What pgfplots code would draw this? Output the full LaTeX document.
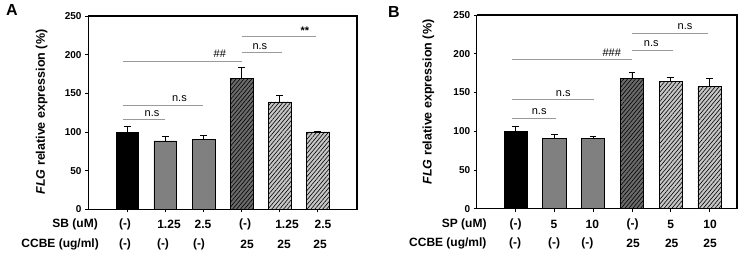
\documentclass[border=0pt]{standalone}
\usepackage{fontspec}
\setmainfont{Liberation Sans}
\usepackage{pgfplots}
\pgfplotsset{compat=1.18}
\usetikzlibrary{patterns.meta}

\definecolor{barmid}{HTML}{808080}
\definecolor{bardark}{HTML}{6A6A6A}
\definecolor{barlight}{HTML}{C6C6C6}
\definecolor{siggray}{HTML}{9A9A9A}

\tikzset{
  hatch/.style={postaction={pattern={Lines[angle=50,distance=3pt,line width=0.6pt]}}},
  sig/.style={siggray, line width=1pt},
  siglab/.style={font=\fontsize{11}{13}\selectfont, inner sep=0pt},
  cat/.style={font=\fontsize{12}{14}\selectfont\bfseries, inner sep=0pt},
}

\pgfplotsset{
  panel/.style={
    scale only axis, anchor=south west,
    ymin=0, ymax=250, ytick={0,50,...,250},
    xtick={0,...,5}, xticklabels={},
    xtick pos=bottom, ytick pos=left,
    axis line style={line width=0.8pt},
    tick style={black, line width=0.8pt},
    tick align=outside, major tick length=3pt,
    yticklabel style={font=\fontsize{10}{12}\selectfont\bfseries},
    /pgf/number format/assume math mode=true,
    clip=false,
    every axis plot/.append style={ybar, bar width=0.6, bar shift=0pt, draw=black, line width=0.6pt},
  },
  errs/.style={error bars/.cd, y dir=plus, y explicit,
    error bar style={black, line width=0.7pt, solid},
    error mark options={black, line width=0.7pt, mark size=3.3pt, rotate=90}},
}

\begin{document}
\begin{tikzpicture}
\path[use as bounding box] (0,0) rectangle (750pt,253pt);

% ---------------- Panel A ----------------
\begin{axis}[panel, at={(88pt,43.7pt)}, width=269pt, height=193.3pt,
  xmin=-1.03, xmax=6.03]
  \addplot[fill=black, errs] coordinates {(0,100) +- (0,7.5)};
  \addplot[fill=barmid, errs] coordinates {(1,88.5) +- (0,5.5) (2,90) +- (0,5.3)};
  \addplot[fill=bardark, hatch, errs] coordinates {(3,169) +- (0,15)};
  \addplot[fill=barlight, hatch, errs] coordinates {(4,139) +- (0,9) (5,100) +- (0,0.8)};

  \draw[sig] (axis cs:-0.1,116.5) -- (axis cs:1.0,116.5);
  \node[siglab] at (axis cs:0.65,123.5) {n.s};
  \draw[sig] (axis cs:-0.1,134.7) -- (axis cs:2.0,134.7);
  \node[siglab] at (axis cs:1.37,143.8) {n.s};
  \draw[sig] (axis cs:-0.1,191.7) -- (axis cs:3.0,191.7);
  \node[siglab] at (axis cs:2.43,201) {\#\#};
  \draw[sig] (axis cs:3.0,203) -- (axis cs:4.05,203);
  \node[siglab] at (axis cs:3.48,211) {n.s};
  \draw[sig] (axis cs:3.0,223.6) -- (axis cs:4.95,223.6);
  \node[siglab, font=\fontsize{11}{13}\selectfont\bfseries] at (axis cs:4.66,231.5) {**};

  \draw[line width=1.8pt] (rel axis cs:0,1) -- (rel axis cs:1,1) -- (rel axis cs:1,0);
\end{axis}

\foreach \x/\t in {125/(-), 169/1.25, 203/2.5, 245/(-), 287/1.25, 323/2.5}
  \node[cat] at (\x pt,29pt) {\t};
\foreach \x/\t in {125/(-), 163/(-), 199/(-), 247/25, 284/25, 320/25}
  \node[cat] at (\x pt,8.7pt) {\t};
\node[cat, anchor=east] at (98pt,29pt) {SB (uM)};
\node[cat, anchor=east] at (99pt,8.7pt) {CCBE (ug/ml)};
\node[rotate=90, font=\fontsize{12.5}{14}\selectfont\bfseries] at (41.7pt,141pt)
  {\itshape FLG\upshape\ relative expression (\%)};
\node[font=\fontsize{16}{18}\selectfont\bfseries] at (12pt,243pt) {A};

% ---------------- Panel B ----------------
\begin{axis}[panel, at={(476.7pt,44.3pt)}, width=260pt, height=193.7pt,
  xmin=-1.0, xmax=5.7]
  \addplot[fill=black, errs] coordinates {(0,100.3) +- (0,5.5)};
  \addplot[fill=barmid, errs] coordinates {(1,90.3) +- (0,6.1) (2,91.2) +- (0,2.6)};
  \addplot[fill=bardark, hatch, errs] coordinates {(3,167.7) +- (0,8.3)};
  \addplot[fill=barlight, hatch, errs] coordinates {(4,164.8) +- (0,4.2) (5,158.3) +- (0,9.4)};

  \draw[sig] (axis cs:-0.1,116.6) -- (axis cs:1.04,116.6);
  \node[siglab] at (axis cs:0.61,125) {n.s};
  \draw[sig] (axis cs:-0.1,141) -- (axis cs:2.02,141);
  \node[siglab] at (axis cs:1.23,149) {n.s};
  \draw[sig] (axis cs:-0.1,192.7) -- (axis cs:3.0,192.7);
  \node[siglab] at (axis cs:2.48,201.6) {\#\#\#};
  \draw[sig] (axis cs:3.0,204.8) -- (axis cs:4.06,204.8);
  \node[siglab] at (axis cs:3.5,213) {n.s};
  \draw[sig] (axis cs:3.0,225.8) -- (axis cs:4.95,225.8);
  \node[siglab] at (axis cs:4.37,235) {n.s};

  \draw[line width=1.8pt] (rel axis cs:0,1) -- (rel axis cs:1,1) -- (rel axis cs:1,0);
\end{axis}

\foreach \x/\t in {515.7/(-), 554/5, 592.3/10, 632.7/(-), 670.7/5, 710/10}
  \node[cat] at (\x pt,29pt) {\t};
\foreach \x/\t in {515/(-), 554/(-), 587.3/(-), 633/25, 671.7/25, 710/25}
  \node[cat] at (\x pt,9.7pt) {\t};
\node[cat, anchor=east] at (486.7pt,29pt) {SP (uM)};
\node[cat, anchor=east] at (486.7pt,9.7pt) {CCBE (ug/ml)};
\node[rotate=90, font=\fontsize{12.5}{14}\selectfont\bfseries] at (428.3pt,151pt)
  {\itshape FLG\upshape\ relative expression (\%)};
\node[font=\fontsize{16}{18}\selectfont\bfseries] at (394pt,241pt) {B};
\end{tikzpicture}
\end{document}
